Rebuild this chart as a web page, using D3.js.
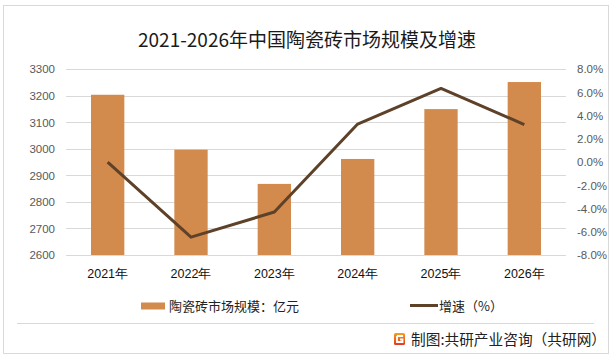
<!DOCTYPE html>
<html><head><meta charset="utf-8">
<script src="https://cdn.jsdelivr.net/npm/d3@7"></script>
<style>
html,body{margin:0;padding:0;background:#fff;}
svg{display:block;font-family:"Noto Sans CJK SC","Noto Sans",sans-serif;}
</style></head><body>
<svg id="chart" width="613" height="361"></svg>
<script>
const years = ["2021年","2022年","2023年","2024年","2025年","2026年"];
const marketSize = [3204, 2997, 2868, 2962, 3150, 3252];
const growthRate = [0.0, -6.46, -4.30, 3.28, 6.35, 3.24];
const leftTicks = [2600, 2700, 2800, 2900, 3000, 3100, 3200, 3300];
const rightTicks = [-8, -6, -4, -2, 0, 2, 4, 6, 8];
const titleText = "2021-2026年中国陶瓷砖市场规模及增速";
const barLegend = "陶瓷砖市场规模：亿元";
const lineLegend = "增速（%）";
const sourceText = "制图:共研产业咨询（共研网）";

const svg = d3.select("#chart");
const plot = {left: 66, right: 566, top: 69.3, bottom: 255};

// outer border
svg.append("rect").attr("x", 3.5).attr("y", 5.5).attr("width", 605).attr("height", 348)
  .attr("fill", "#fff").attr("stroke", "#d9d9d9").attr("stroke-width", 1);

const x = d3.scaleBand().domain(years).range([plot.left, plot.right]).paddingInner(0.6).paddingOuter(0.3);
const yL = d3.scaleLinear().domain([2600, 3300]).range([plot.bottom, plot.top]);
const yR = d3.scaleLinear().domain([-8, 8]).range([plot.bottom, plot.top]);

// gridlines
svg.append("g").selectAll("line").data(leftTicks).join("line")
  .attr("x1", plot.left).attr("x2", plot.right)
  .attr("y1", d => Math.round(yL(d)) + 0.5).attr("y2", d => Math.round(yL(d)) + 0.5)
  .attr("stroke", "#d9d9d9").attr("stroke-width", 1);

// left axis
const gL = svg.append("g").attr("transform", `translate(${plot.left},0)`)
  .call(d3.axisLeft(yL).tickValues(leftTicks).tickSize(0).tickPadding(11).tickFormat(d3.format("d")));
gL.select(".domain").remove();
gL.selectAll("text").attr("fill", "#595959").style("font-size", "11.5px").style("font-family", "'Liberation Sans Narrow','Liberation Sans',sans-serif");

// right axis
const gR = svg.append("g").attr("transform", `translate(${plot.right},0)`)
  .call(d3.axisRight(yR).tickValues(rightTicks).tickSize(0).tickPadding(11).tickFormat(d => d.toFixed(1) + "%"));
gR.select(".domain").remove();
gR.selectAll("text").attr("fill", "#595959").style("font-size", "11.5px").style("font-family", "'Liberation Sans Narrow','Liberation Sans',sans-serif");

// bars
svg.append("g").selectAll("rect").data(years).join("rect")
  .attr("x", d => x(d)).attr("width", x.bandwidth())
  .attr("y", (d, i) => yL(marketSize[i])).attr("height", (d, i) => yL(2600) - yL(marketSize[i]))
  .attr("fill", "#D38B4D");

// line
const line = d3.line().x((d, i) => x(years[i]) + x.bandwidth() / 2).y(d => yR(d));
svg.append("path").datum(growthRate).attr("d", line)
  .attr("fill", "none").attr("stroke", "#5E4129").attr("stroke-width", 3).attr("stroke-linejoin", "round");

// x axis labels
const gX = svg.append("g").attr("transform", `translate(0,${plot.bottom})`)
  .call(d3.axisBottom(x).tickSize(0).tickPadding(14));
gX.select(".domain").remove();
gX.selectAll("text").attr("fill", "#111").style("font-size", "12.5px");

// title
svg.append("text").attr("x", 307).attr("y", 47).attr("text-anchor", "middle")
  .attr("fill", "#1a1a1a").style("font-size", "19px").text(titleText);

// legend
svg.append("rect").attr("x", 141).attr("y", 302.5).attr("width", 24).attr("height", 7).attr("fill", "#D38B4D");
svg.append("text").attr("x", 169).attr("y", 310.5).attr("fill", "#222").style("font-size", "13px").text(barLegend);
svg.append("line").attr("x1", 410).attr("x2", 438).attr("y1", 305.5).attr("y2", 305.5)
  .attr("stroke", "#5E4129").attr("stroke-width", 3);
svg.append("text").attr("x", 439).attr("y", 310.5).attr("fill", "#222").style("font-size", "13px").text(lineLegend);

// footer separator
svg.append("line").attr("x1", 17).attr("x2", 594).attr("y1", 323.5).attr("y2", 323.5)
  .attr("stroke", "#d9d9d9").attr("stroke-width", 1);

// logo
const defs = svg.append("defs");
const grad = defs.append("linearGradient").attr("id", "lg").attr("x1", 0).attr("y1", 0).attr("x2", 0).attr("y2", 1);
grad.append("stop").attr("offset", "0%").attr("stop-color", "#F7A21B");
grad.append("stop").attr("offset", "100%").attr("stop-color", "#E2361F");
const logo = svg.append("g").attr("transform", "translate(394,333)");
logo.append("rect").attr("width", 11).attr("height", 12).attr("rx", 1.5).attr("fill", "url(#lg)");
logo.append("path").attr("d", "M3,3 H9 M3,3 V9 H8.5 V6.5 H6").attr("fill", "none").attr("stroke", "#fff").attr("stroke-width", 1.8);

svg.append("text").attr("x", 411).attr("y", 345).attr("fill", "#222").style("font-size", "14.7px").text(sourceText);
</script>
</body></html>
